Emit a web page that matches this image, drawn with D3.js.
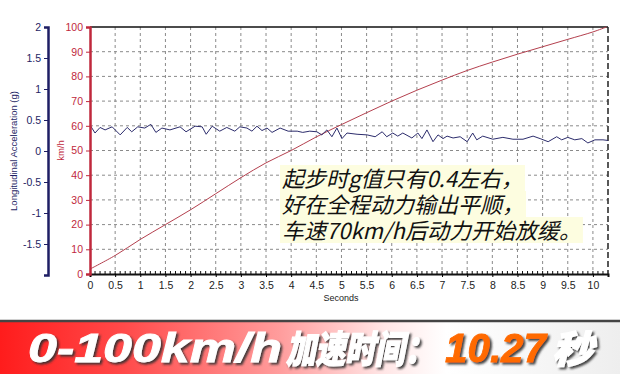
<!DOCTYPE html>
<html>
<head>
<meta charset="utf-8">
<script src="https://cdn.jsdelivr.net/npm/d3@7"></script>
<style>
  body { margin: 0; background: #fff; }
  svg { display: block; font-family: "Liberation Sans", Arial, sans-serif; }
</style>
</head>
<body>
<div id="chart"></div>
<script>
// Speed trace (km/h) against time (s)
const speedTime = [0, 0.5, 1, 1.5, 2, 2.5, 3, 3.5, 4, 4.5, 5, 5.5, 6, 6.5, 7, 7.5, 8, 8.5, 9, 9.5, 10, 10.27];
const speedKmh = [2, 7.5, 14, 20, 26, 32.5, 39, 45, 50, 55.5, 60.5, 65.3, 70, 74.4, 78.5, 82.4, 85.8, 89, 92, 95, 98, 100];

// Longitudinal acceleration (g) against time (s)
const accTime = [0, 0.1, 0.2, 0.3, 0.44, 0.6, 0.74, 0.83, 0.95, 1.09, 1.21, 1.31, 1.43, 1.59, 1.79, 1.91,
  2.09, 2.23, 2.31, 2.43, 2.58, 2.72, 2.88, 2.98, 3.12, 3.22, 3.32, 3.42, 3.52, 3.62, 3.78, 3.94,
  4.12, 4.23, 4.37, 4.51, 4.61, 4.71, 4.81, 4.91, 5.01, 5.11, 5.31, 5.51, 5.67, 5.81, 5.9, 6.02,
  6.12, 6.22, 6.4, 6.52, 6.6, 6.7, 6.82, 6.92, 7.02, 7.1, 7.22, 7.36, 7.5, 7.61, 7.69, 7.81,
  8.01, 8.21, 8.41, 8.61, 8.81, 8.95, 9.11, 9.28, 9.38, 9.5, 9.64, 9.78, 9.9, 10.04, 10.2, 10.3];
const accG = [0.42, 0.29, 0.38, 0.34, 0.39, 0.26, 0.38, 0.31, 0.39, 0.37, 0.43, 0.3, 0.37, 0.34, 0.39, 0.31,
  0.4, 0.39, 0.27, 0.4, 0.32, 0.38, 0.32, 0.39, 0.37, 0.32, 0.4, 0.33, 0.37, 0.3, 0.37, 0.32,
  0.32, 0.3, 0.32, 0.31, 0.26, 0.34, 0.23, 0.37, 0.2, 0.29, 0.27, 0.26, 0.23, 0.31, 0.23, 0.29,
  0.24, 0.29, 0.21, 0.29, 0.2, 0.34, 0.15, 0.26, 0.2, 0.24, 0.21, 0.23, 0.15, 0.29, 0.18, 0.24,
  0.19, 0.22, 0.19, 0.19, 0.24, 0.2, 0.15, 0.23, 0.18, 0.22, 0.18, 0.2, 0.13, 0.18, 0.18, 0.17];

const secondTicks = d3.range(0, 10.01, 0.5);
const speedTicks = d3.range(0, 101, 10);
const accTicks = [2, 1.5, 1, 0.5, 0, -0.5, -1, -1.5];

const noteLines = ['起步时g值只有0.4左右，', '好在全程动力输出平顺，', '车速70km/h后动力开始放缓。'];
const bannerParts = [
  { text: '0-100km/h', color: '#fff', x: 28, len: 254, latin: true },
  { text: '加速时间：', color: '#fff', x: 286, len: 148, latin: false },
  { text: '10.27', color: '#ff6a00', x: 445, len: 101, latin: true },
  { text: '秒', color: '#fff', x: 552, len: 41, latin: false },
];

const W = 620, H = 374;
const red = '#c0283c', navy = '#1e1e64';
const fmt = d => String(d);

const svg = d3.select('#chart').append('svg')
  .attr('width', W)
  .attr('height', H);

const defs = svg.append('defs');
const grad = defs.append('linearGradient').attr('id', 'bannerGrad');
[[0, '#ff1c1c'], [0.2, '#ff4a4a'], [0.45, '#ff9c9c'], [0.62, '#ffe6e6'], [0.72, '#ffffff'], [1, '#eeeeee']]
  .forEach(([o, c]) => grad.append('stop').attr('offset', o).attr('stop-color', c));
const shadow = defs.append('filter').attr('id', 'shadow')
  .attr('filterUnits', 'userSpaceOnUse')
  .attr('x', 0).attr('y', 322).attr('width', W).attr('height', H - 322);
shadow.append('feDropShadow').attr('dx', 2).attr('dy', 2).attr('stdDeviation', 1)
  .attr('flood-color', '#333').attr('flood-opacity', 0.9);

// Scales
const x = d3.scaleLinear().domain([0, 10.3]).range([90, 608]);
const ySpd = d3.scaleLinear().domain([0, 100]).range([274, 27]);
const yAcc = d3.scaleLinear().domain([-2, 2]).range([275, 27]);

// Grid
const grid = svg.append('g').attr('stroke', '#8a8a8a').attr('stroke-dasharray', '3,3').attr('stroke-width', 1);
grid.selectAll('line.v')
  .data(secondTicks.filter(d => d > 0))
  .enter().append('line')
  .attr('x1', d => x(d)).attr('x2', d => x(d))
  .attr('y1', ySpd(100)).attr('y2', ySpd(0));
grid.selectAll('line.h')
  .data(speedTicks.filter(d => d > 0 && d < 100))
  .enter().append('line')
  .attr('x1', x(0)).attr('x2', x(10.3))
  .attr('y1', d => ySpd(d)).attr('y2', d => ySpd(d));

// Frame: top solid, right dashed
svg.append('line')
  .attr('x1', x(0)).attr('x2', x(10.3))
  .attr('y1', ySpd(100)).attr('y2', ySpd(100))
  .attr('stroke', '#111').attr('stroke-width', 1.5);
svg.append('line')
  .attr('x1', x(10.3)).attr('x2', x(10.3))
  .attr('y1', ySpd(100)).attr('y2', ySpd(0))
  .attr('stroke', '#222').attr('stroke-width', 1.5).attr('stroke-dasharray', '6,3');

// Annotation
const note = svg.append('g');
noteLines.forEach((t, i) => {
  const txt = note.append('text')
    .attr('x', 282)
    .attr('y', 187 + i * 26)
    .attr('font-family', '"Noto Sans CJK SC", sans-serif')
    .attr('font-style', 'italic')
    .attr('font-size', 22)
    .attr('fill', '#111')
    .text(t);
  const bb = txt.node().getBBox();
  note.insert('rect', 'text')
    .attr('x', bb.x - 2).attr('y', bb.y + 4)
    .attr('width', bb.width + 4).attr('height', bb.height - 6)
    .attr('fill', '#fdfde0');
});

// Lines
const speedData = speedTime.map((t, i) => ({ t, v: speedKmh[i] }));
const accData = accTime.map((t, i) => ({ t, v: accG[i] }));

svg.append('path')
  .datum(speedData)
  .attr('fill', 'none')
  .attr('stroke', '#b4404e')
  .attr('stroke-width', 1)
  .attr('d', d3.line().x(d => x(d.t)).y(d => ySpd(d.v)).curve(d3.curveCatmullRom));

svg.append('path')
  .datum(accData)
  .attr('fill', 'none')
  .attr('stroke', '#2c2c6c')
  .attr('stroke-width', 1)
  .attr('d', d3.line().x(d => x(d.t)).y(d => yAcc(d.v)));

// X axis
const xAxis = svg.append('g')
  .attr('transform', `translate(0, ${ySpd(0)})`)
  .call(d3.axisBottom(x).tickValues(secondTicks).tickSize(3).tickFormat(fmt));
xAxis.select('.domain').attr('stroke', '#111').attr('stroke-width', 2);
xAxis.selectAll('text').attr('font-size', 10.5).attr('fill', '#222').attr('dy', '0.9em');
xAxis.selectAll('.minor')
  .data(d3.range(0.1, 10.3, 0.1))
  .enter().append('line')
  .attr('x1', d => x(d)).attr('x2', d => x(d))
  .attr('y1', 0).attr('y2', -3)
  .attr('stroke', '#111');
svg.append('text')
  .attr('x', 341).attr('y', 301)
  .attr('text-anchor', 'middle')
  .attr('font-size', 9)
  .attr('fill', '#222')
  .text('Seconds');

// Speed axis
const spdAxis = svg.append('g')
  .attr('transform', `translate(${x(0)}, 0)`)
  .call(d3.axisLeft(ySpd).tickValues(speedTicks).tickSize(4).tickFormat(fmt));
spdAxis.select('.domain').attr('stroke', red).attr('stroke-width', 2.5);
spdAxis.selectAll('line').attr('stroke', red);
spdAxis.selectAll('text').attr('font-size', 10.5).attr('fill', red);
svg.append('text')
  .attr('transform', `translate(64, ${ySpd(50)}) rotate(-90)`)
  .attr('text-anchor', 'middle')
  .attr('font-size', 9.5)
  .attr('fill', red)
  .text('km/h');

// Acceleration axis
const accAxis = svg.append('g')
  .attr('transform', 'translate(48, 0)')
  .call(d3.axisLeft(yAcc).tickValues(accTicks).tickSize(4).tickFormat(fmt));
accAxis.select('.domain').attr('stroke', navy).attr('stroke-width', 2.5);
accAxis.selectAll('line').attr('stroke', navy);
accAxis.selectAll('text').attr('font-size', 10.5).attr('fill', navy);
svg.append('text')
  .attr('transform', `translate(17, ${yAcc(0)}) rotate(-90)`)
  .attr('text-anchor', 'middle')
  .attr('font-size', 9.5)
  .attr('fill', navy)
  .text('Longitudinal Acceleration (g)');

// Banner
svg.append('rect')
  .attr('x', 0).attr('y', 321).attr('width', W).attr('height', H - 321)
  .attr('fill', 'url(#bannerGrad)');
svg.append('line')
  .attr('x1', 0).attr('x2', W).attr('y1', 321).attr('y2', 321)
  .attr('stroke', '#444').attr('stroke-width', 2.5);

bannerParts.forEach(p => {
  svg.append('text')
    .attr('x', p.x).attr('y', p.latin ? 362 : 363)
    .attr('font-family', p.latin ? '"Liberation Sans", Arial, sans-serif' : '"Noto Sans CJK SC", sans-serif')
    .attr('font-weight', p.latin ? 700 : 900)
    .attr('font-style', 'italic')
    .attr('font-size', p.latin ? 41 : 38)
    .attr('fill', p.color)
    .attr('stroke', p.color)
    .attr('stroke-width', p.latin ? 0.8 : 1.2)
    .attr('textLength', p.len)
    .attr('lengthAdjust', 'spacingAndGlyphs')
    .attr('filter', 'url(#shadow)')
    .text(p.text);
});
</script>
</body>
</html>
